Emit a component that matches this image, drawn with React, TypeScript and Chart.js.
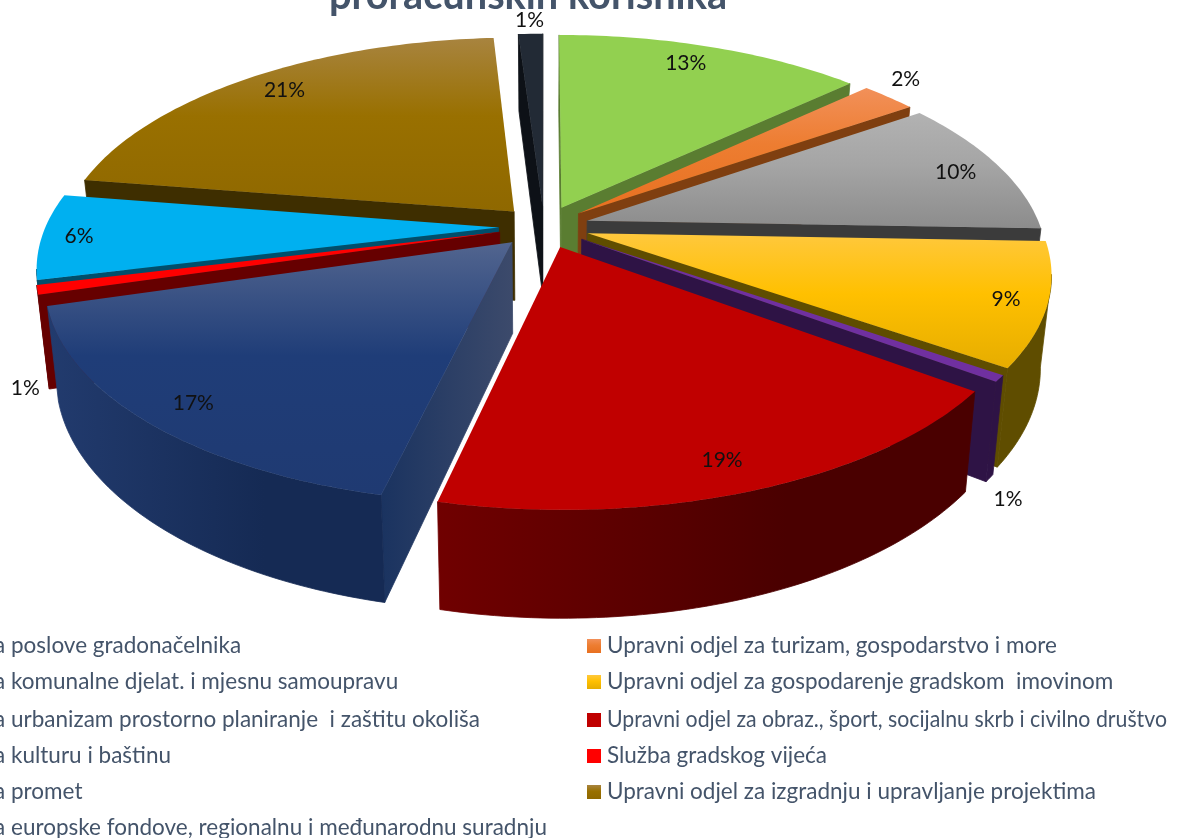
import React, { useEffect, useRef } from "react";
import { Chart, registerables } from "chart.js";

Chart.register(...registerables);

const titleText = "proračunskih korisnika";
const categories = [
  "Upravni odjel za poslove gradonačelnika",
  "Upravni odjel za turizam, gospodarstvo i more",
  "Upravni odjel za komunalne djelat. i mjesnu samoupravu",
  "Upravni odjel za gospodarenje gradskom  imovinom",
  "Upravni odjel za urbanizam prostorno planiranje  i zaštitu okoliša",
  "Upravni odjel za obraz., šport, socijalnu skrb i civilno društvo",
  "Upravni odjel za kulturu i baštinu",
  "Služba gradskog vijeća",
  "Upravni odjel za promet",
  "Upravni odjel za izgradnju i upravljanje projektima",
  "Upravni odjel za europske fondove, regionalnu i međunarodnu suradnju",
];
const values = [12.7, 2.3, 10.2, 9.2, 0.5, 18.8, 17.1, 0.7, 6.4, 21.1, 1.0];

const baseColors = ["#92D050", "#ED7D31", "#A5A5A5", "#FFC000", "#7030A0", "#C00000", "#1F3D78", "#FF0000", "#00B0F0", "#997000", "#222A35"];
const topColors = ["#92D050", "#F29059", "#B2B2B2", "#FFC83D", "#7030A0", "#C00000", "#52658F", "#FF0000", "#00B0F0", "#A8843F", "#222A35"];
const lowColors = ["#92D050", "#E87020", "#8C8C8C", "#E6AD00", "#7030A0", "#C00000", "#1F3A72", "#FF0000", "#00B0F0", "#8F6800", "#222A35"];
const sideColors = ["#5A7D31", "#7F3F10", "#3B3B3B", "#5F4D00", "#2E1345", "#4A0000", "#152A54", "#660000", "#004E6B", "#3E2E00", "#0D1117"];
const wallEdgeColors = ["#5A7D31", "#7F3F10", "#3B3B3B", "#5F4D00", "#2E1345", "#700000", "#223B6E", "#660000", "#004E6B", "#3E2E00", "#0D1117"];
const radialStartColors = ["#5A7D31", "#7F3F10", "#3B3B3B", "#5F4D00", "#2E1345", "#4A0000", "#3C4A6B", "#660000", "#004E6B", "#3E2E00", "#0D1117"];
const radialEndColors = ["#5A7D31", "#7F3F10", "#3B3B3B", "#5F4D00", "#2E1345", "#4A0000", "#1A3360", "#660000", "#004E6B", "#3E2E00", "#0D1117"];

const labelRadius = [0.981, 1.209, 0.992, 1.014, 1.359, 0.984, 0.993, 1.219, 1.019, 0.985, 1.192];
const labelAngleShift = [-1.6, -2.1, 0.2, 0.1, 16.4, 0.6, -0.5, -19.1, 0, 1.3, 0];

const CX = 544, CY = 232, RX = 455, RY = 211, DEPTH = 90, PERSP = 0.155, APEX_LIFT = 5, DEPTH_SHRINK = 0.022;
const EXPLODE = 0.1;
const FONT = "Lato, Carlito, sans-serif";
const INK = "#44546A";

const project = (u: number, v: number, z = 0, lift = 0): [number, number] => {
  const s = 1 / (1 - PERSP * v);
  return [CX + RX * u * s * (1 - DEPTH_SHRINK * z), CY - lift + (RY * v + DEPTH * z) * s];
};

function poly(ctx: CanvasRenderingContext2D, pts: [number, number][], fill: string | CanvasGradient, seal = false) {
  ctx.beginPath();
  pts.forEach((p, i) => (i ? ctx.lineTo(p[0], p[1]) : ctx.moveTo(p[0], p[1])));
  ctx.closePath();
  ctx.fillStyle = fill;
  ctx.fill();
  if (seal) {
    ctx.strokeStyle = fill;
    ctx.lineWidth = 0.8;
    ctx.stroke();
  }
}

const pie3d = {
  id: "pie3d",
  beforeDatasetDraw(chart: any) {
    const ctx: CanvasRenderingContext2D = chart.ctx;
    const arcs = chart.getDatasetMeta(0).data;
    const order = arcs
      .map((arc: any, i: number) => ({ i, arc, mid: (arc.startAngle + arc.endAngle) / 2 }))
      .sort((a: any, b: any) => Math.sin(a.mid) - Math.sin(b.mid));
    ctx.save();
    for (const { i, arc, mid } of order) {
      const ox = EXPLODE * Math.cos(mid);
      const oy = EXPLODE * Math.sin(mid);
      const steps = Math.max(3, Math.ceil(((arc.endAngle - arc.startAngle) * 180) / Math.PI));
      const rim: [number, number][] = [];
      for (let k = 0; k <= steps; k++) {
        const a = arc.startAngle + ((arc.endAngle - arc.startAngle) * k) / steps;
        rim.push([ox + Math.cos(a), oy + Math.sin(a)]);
      }
      const pA = project(ox, oy, 0, APEX_LIFT);
      const pB = project(ox, oy, 1, APEX_LIFT);
      const rimTop = rim.map((p) => project(p[0], p[1]));
      const rimBot = rim.map((p) => project(p[0], p[1], 1));
      const side = sideColors[i];
      const edge = wallEdgeColors[i];

      const radial = (t: [number, number], b: [number, number]) => {
        const g = ctx.createLinearGradient(pA[0], 0, t[0] === pA[0] ? pA[0] + 1 : t[0], 0);
        g.addColorStop(0, radialStartColors[i]);
        g.addColorStop(1, radialEndColors[i]);
        poly(ctx, [pA, t, b, pB], g, true);
      };
      const lastI = rim.length - 1;
      if (rimTop[lastI][0] > pA[0]) radial(rimTop[lastI], rimBot[lastI]);
      if (rimTop[0][0] < pA[0]) radial(rimTop[0], rimBot[0]);

      let run: number[] = [];
      const flush = () => {
        if (run.length > 1) {
          const tops = run.map((k) => rimTop[k]);
          const bots = run.map((k) => rimBot[k]).reverse();
          const xs = tops.map((p) => p[0]);
          const g = ctx.createLinearGradient(Math.min(...xs), 0, Math.max(...xs), 0);
          g.addColorStop(0, edge);
          g.addColorStop(0.65, side);
          g.addColorStop(1, side);
          poly(ctx, [...tops, ...bots], g, true);
        }
        run = [];
      };
      for (let k = 0; k < lastI; k++) {
        if (rimTop[k + 1][0] < rimTop[k][0]) {
          if (!run.length) run.push(k);
          run.push(k + 1);
        } else flush();
      }
      flush();

      const top = [pA, ...rimTop];
      const ys = top.map((p) => p[1]);
      const g = ctx.createLinearGradient(0, Math.min(...ys), 0, Math.max(...ys));
      g.addColorStop(0, topColors[i]);
      g.addColorStop(0.45, baseColors[i]);
      g.addColorStop(1, lowColors[i]);
      poly(ctx, top, g);
    }
    ctx.restore();
    return false;
  },
  afterDraw(chart: any) {
    const ctx: CanvasRenderingContext2D = chart.ctx;
    const arcs = chart.getDatasetMeta(0).data;
    ctx.save();
    ctx.font = `21px ${FONT}`;
    ctx.fillStyle = "#111111";
    ctx.textAlign = "center";
    ctx.textBaseline = "middle";
    arcs.forEach((arc: any, i: number) => {
      const mid = (arc.startAngle + arc.endAngle) / 2 + (labelAngleShift[i] * Math.PI) / 180;
      const p = project(labelRadius[i] * Math.cos(mid), labelRadius[i] * Math.sin(mid));
      ctx.fillText(`${Math.round(values[i] + 0.001)}%`, p[0], p[1]);
    });
    ctx.font = `bold 39.7px ${FONT}`;
    ctx.fillStyle = INK;
    ctx.fillText(titleText, 528, -4);
    ctx.font = `22.5px ${FONT}`;
    ctx.textAlign = "left";
    const prefix = ctx.measureText("Upravni odjel za ").width;
    const rows = [646, 682, 720, 756, 792, 828];
    categories.forEach((name, i) => {
      const col = i % 2;
      const y = rows[(i - col) / 2];
      const x = col ? 607 : 11 - prefix;
      const g = ctx.createLinearGradient(0, y - 7, 0, y + 7);
      g.addColorStop(0, topColors[i]);
      g.addColorStop(0.45, baseColors[i]);
      g.addColorStop(1, lowColors[i]);
      ctx.fillStyle = g;
      ctx.fillRect(x - 20, y - 7, 14, 14);
      ctx.fillStyle = INK;
      if (col) ctx.fillText(name, x, y, 560);
      else ctx.fillText(name, x, y);
    });
    ctx.restore();
  },
};

export default function App() {
  const ref = useRef<HTMLCanvasElement | null>(null);
  useEffect(() => {
    const chart = new Chart(ref.current as HTMLCanvasElement, {
      type: "pie",
      data: {
        labels: categories,
        datasets: [{ data: values, backgroundColor: baseColors }],
      },
      options: {
        responsive: false,
        animation: false,
        devicePixelRatio: 1,
        plugins: { legend: { display: false }, title: { display: false }, tooltip: { enabled: false } },
      },
      plugins: [pie3d],
    } as any);
    return () => chart.destroy();
  }, []);
  return (
    <canvas
      ref={ref}
      width={1199}
      height={838}
      style={{ position: "fixed", left: 0, top: 0, width: 1199, height: 838, background: "#fff" }}
    />
  );
}
